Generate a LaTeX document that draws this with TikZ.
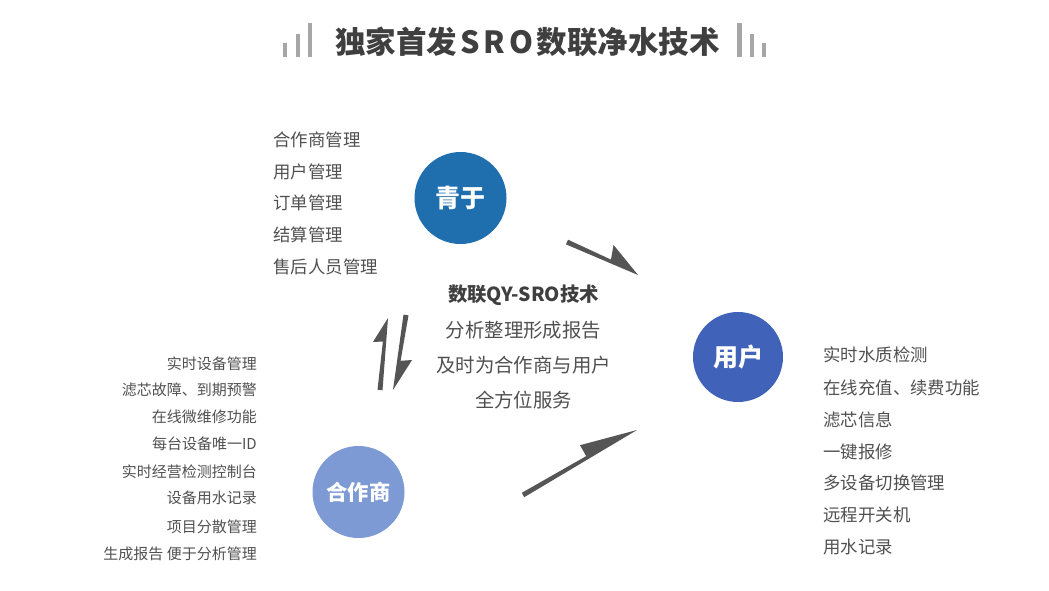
\documentclass[tikz,border=0pt]{standalone}
\usepackage{fontspec}
\setmainfont{Noto Sans CJK SC}
\definecolor{titlec}{HTML}{3F3F3F}
\definecolor{barc}{HTML}{A6A6A6}
\definecolor{txtc}{HTML}{505050}
\definecolor{arrc}{HTML}{555555}
\definecolor{qyc}{HTML}{1F6EAD}
\definecolor{yhc}{HTML}{4062B8}
\definecolor{hzc}{HTML}{7E9AD4}
\tikzset{
  bubble/.style={circle, minimum size=92pt, inner sep=0pt, text=white, font=\bfseries\fontsize{25}{25}\selectfont},
  listl/.style={anchor=west, inner sep=0pt, text=txtc, font=\fontsize{17.4}{17.4}\selectfont},
  listr/.style={anchor=east, inner sep=0pt, text=txtc, font=\fontsize{15}{15}\selectfont},
  midtxt/.style={inner sep=0pt, text=txtc, font=\fontsize{19.4}{19.4}\selectfont},
  titlebar/.style={fill=barc, draw=none},
  halfarrow/.style={fill=arrc, draw=none},
}
\begin{document}
\begin{tikzpicture}[x=1pt,y=-1pt]
\useasboundingbox (0,0) rectangle (1049,590);
% title
\node[inner sep=0pt, text=titlec, font=\bfseries\fontsize{30.5}{30.5}\selectfont] (title) at (527.5,42) {独家首发\hspace{3pt}S\hspace{4pt}R\hspace{4pt}O\hspace{3pt}数联净水技术};
\fill[titlebar] (283.3,43.3) rectangle (287.3,56.7);
\fill[titlebar] (296,34) rectangle (300,56.7);
\fill[titlebar] (307.5,23.3) rectangle (311.7,56.7);
\fill[titlebar] (737,23.3) rectangle (741.5,56.7);
\fill[titlebar] (750,34) rectangle (754,56.7);
\fill[titlebar] (762,43.3) rectangle (766,56.7);
% circles
\node[bubble, fill=qyc] (qy) at (460.5,198) {青于};
\node[bubble, fill=yhc, minimum size=90pt] (yh) at (738,357) {用户};
\node[bubble, fill=hzc, font=\bfseries\fontsize{21.3}{21.3}\selectfont] (hz) at (358.5,492) {合作商};
% center text
\node[midtxt, font=\bfseries\fontsize{19.4}{19.4}\selectfont, text=titlec] (m1) at (523.5,295) {数联QY-SRO技术};
\node[midtxt] (m2) at (523.5,330) {分析整理形成报告};
\node[midtxt] (m3) at (523.5,365) {及时为合作商与用户};
\node[midtxt] (m4) at (523.5,400) {全方位服务};
% top-left list
\node[listl] (q1) at (273.3,140) {合作商管理};
\node[listl] (q2) at (273.3,171.7) {用户管理};
\node[listl] (q3) at (273.3,203.3) {订单管理};
\node[listl] (q4) at (273.3,235) {结算管理};
\node[listl] (q5) at (273.3,266.7) {售后人员管理};
% left list
\node[listr] (h1) at (257,363.3) {实时设备管理};
\node[listr] (h2) at (257,390) {滤芯故障、到期预警};
\node[listr] (h3) at (257,416.7) {在线微维修功能};
\node[listr] (h4) at (257,444) {每台设备唯一ID};
\node[listr] (h5) at (257,471.7) {实时经营检测控制台};
\node[listr] (h6) at (257,498.3) {设备用水记录};
\node[listr] (h7) at (257,526.7) {项目分散管理};
\node[listr] (h8) at (257,554) {生成报告 便于分析管理};
% right list
\node[listl] (y1) at (823.3,355) {实时水质检测};
\node[listl] (y2) at (823.3,388.3) {在线充值、续费功能};
\node[listl] (y3) at (823.3,420) {滤芯信息};
\node[listl] (y4) at (823.3,451.7) {一键报修};
\node[listl] (y5) at (823.3,483.3) {多设备切换管理};
\node[listl] (y6) at (823.3,515) {远程开关机};
\node[listl] (y7) at (823.3,546.7) {用水记录};
% half arrows
\coordinate (a1s) at (567,242); \coordinate (a1t) at (638,275);
\fill[halfarrow] (568.1,239.7) -- (611.0,259.6) -- (613.5,244.9) -- (a1t) -- (565.9,244.3) -- cycle;
\coordinate (a2s) at (523,495); \coordinate (a2t) at (637,430);
\fill[halfarrow] (521.8,492.8) -- (586.2,456.1) -- (580.0,445.2) -- (a2t) -- (524.2,497.2) -- cycle;
\coordinate (a3s) at (380,390); \coordinate (a3t) at (388,318);
\fill[halfarrow] (377.5,389.7) -- (382.9,341.6) -- (373.0,341.9) -- (a3t) -- (382.5,390.3) -- cycle;
\coordinate (a4s) at (406,315); \coordinate (a4t) at (393,390);
\fill[halfarrow] (408.5,315.4) -- (400.6,360.8) -- (412.0,360.0) -- (a4t) -- (403.5,314.6) -- cycle;
\end{tikzpicture}
\end{document}
